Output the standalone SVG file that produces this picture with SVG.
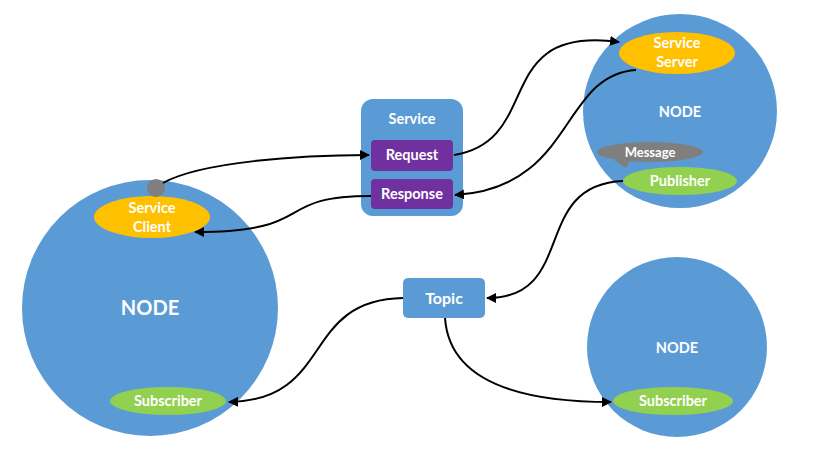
<svg xmlns="http://www.w3.org/2000/svg" width="817" height="456" viewBox="0 0 817 456">
<defs>
<style>
.node{fill:#5b9bd5}
.t{font-family:Lato,"Open Sans","Liberation Sans",sans-serif;font-weight:bold;fill:#ffffff;text-anchor:middle}
.s{font-size:14.5px}
.srv{fill:#ffc000}
.pub{fill:#92d050}
.msg{fill:#7f7f7f}
.box{fill:#7030a0}
.c{fill:none;stroke:#000;stroke-width:2;marker-end:url(#ah)}
</style>
<marker id="ah" viewBox="0 0 10 10" refX="9" refY="5" markerWidth="5" markerHeight="5" orient="auto">
<path d="M0,0 L10,5 L0,10 z" fill="#000"/>
</marker>
</defs>
<rect width="817" height="456" fill="#ffffff"/>

<g id="node-left">
<circle class="node" cx="150" cy="308" r="128"/>
<text class="t" x="150" y="315" font-size="20">NODE</text>
<g id="service-client">
<ellipse class="srv" cx="152" cy="217" rx="58" ry="21"/>
<text class="t s" x="152" y="213">Service</text>
<text class="t s" x="152" y="232">Client</text>
</g>
<circle id="client-port" class="msg" cx="156" cy="188" r="9"/>
<g id="subscriber-left">
<ellipse class="pub" cx="168" cy="401" rx="58" ry="14"/>
<text class="t s" x="168" y="406">Subscriber</text>
</g>
</g>

<g id="node-top-right">
<circle class="node" cx="680" cy="111" r="97"/>
<text class="t s" x="680" y="117">NODE</text>
<g id="service-server">
<ellipse class="srv" cx="677" cy="53" rx="58" ry="21"/>
<text class="t s" x="677" y="48">Service</text>
<text class="t s" x="677" y="67">Server</text>
</g>
<g id="message">
<path class="msg" d="M614,160 L626,168 L630,160 Z"/>
<ellipse class="msg" cx="650" cy="152" rx="53" ry="10"/>
<text class="t" x="650" y="157" font-size="13">Message</text>
</g>
<g id="publisher">
<ellipse class="pub" cx="680" cy="181" rx="57" ry="14"/>
<text class="t s" x="680" y="186">Publisher</text>
</g>
</g>

<g id="node-bottom-right">
<circle class="node" cx="677" cy="347" r="90"/>
<text class="t s" x="677" y="353">NODE</text>
<g id="subscriber-right">
<ellipse class="pub" cx="673" cy="401" rx="60" ry="14"/>
<text class="t s" x="673" y="406">Subscriber</text>
</g>
</g>

<g id="service">
<rect class="node" x="361" y="99" width="102" height="117" rx="12"/>
<text class="t s" x="412" y="124">Service</text>
<g id="request">
<rect class="box" x="371" y="140" width="82" height="31" rx="4"/>
<text class="t s" x="412" y="160">Request</text>
</g>
<g id="response">
<rect class="box" x="371" y="179" width="82" height="30" rx="4"/>
<text class="t s" x="412" y="199">Response</text>
</g>
</g>

<g id="topic">
<rect class="node" x="403" y="278" width="82" height="40" rx="5"/>
<text class="t" x="444" y="304" font-size="16">Topic</text>
</g>

<g id="connectors">
<path class="c" d="M163,183 C200,162 300,155 369,155"/>
<path class="c" d="M454,155 C545,140 490,25 619,42"/>
<path class="c" d="M636,70 C560,75 575,188 455,195"/>
<path class="c" d="M371,196 C270,196 320,232 195,232"/>
<path class="c" d="M623,181 C530,185 578,298 487,298"/>
<path class="c" d="M403,298 C300,300 335,400 229,402"/>
<path class="c" d="M445,318 C450,390 540,402 611,402"/>
</g>
</svg>
